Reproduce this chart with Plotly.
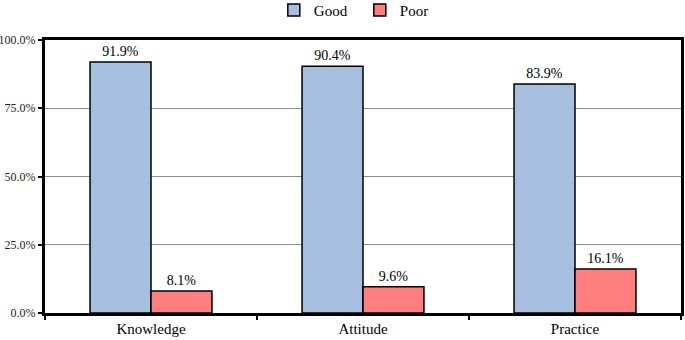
import plotly.graph_objects as go

categories = ["Knowledge", "Attitude", "Practice"]
good = [0.919, 0.904, 0.839]
poor = [0.081, 0.096, 0.161]
good_labels = ["91.9%", "90.4%", "83.9%"]
poor_labels = ["8.1%", "9.6%", "16.1%"]
y_ticks = [0, 0.25, 0.5, 0.75, 1.0]

font_family = "Liberation Serif, serif"

fig = go.Figure()
fig.add_trace(go.Bar(
    name="Good", x=categories, y=good, text=good_labels,
    textposition="outside", cliponaxis=False,
    marker=dict(color="#A7BFDE", line=dict(color="black", width=1.5)),
    textfont=dict(size=14, color="black"),
))
fig.add_trace(go.Bar(
    name="Poor", x=categories, y=poor, text=poor_labels,
    textposition="outside", cliponaxis=False,
    marker=dict(color="#FF7F7F", line=dict(color="black", width=1.5)),
    textfont=dict(size=14, color="black"),
))

fig.update_layout(
    width=685, height=340,
    margin=dict(l=45, r=4, t=40, b=27, autoexpand=False),
    paper_bgcolor="white", plot_bgcolor="white",
    barmode="group", bargap=0.425, bargroupgap=0,
    font=dict(family=font_family, color="black"),
    showlegend=True,
    legend=dict(orientation="h", x=0.495, xanchor="center", y=0.97, yanchor="middle",
                yref="container", font=dict(size=15),
                itemwidth=30, entrywidth=41, traceorder="normal"),
)
fig.update_xaxes(
    showline=True, linecolor="black", linewidth=3, mirror=True,
    ticks="outside", tickson="boundaries", ticklen=4, tickwidth=2, tickcolor="black",
    tickfont=dict(size=15, color="black"), showgrid=False,
)
fig.update_yaxes(
    range=[0, 1.0], tickvals=y_ticks, tickformat=".1%",
    showline=True, linecolor="black", linewidth=3, mirror=True,
    ticks="outside", ticklen=4, tickwidth=2, tickcolor="black",
    showgrid=True, gridcolor="#8C8C8C", gridwidth=1,
    tickfont=dict(size=12, color="#222222"),
    zeroline=False,
)
fig.write_html("out.html", config={"displayModeBar": False},
               post_script="document.body.style.margin='0';")
